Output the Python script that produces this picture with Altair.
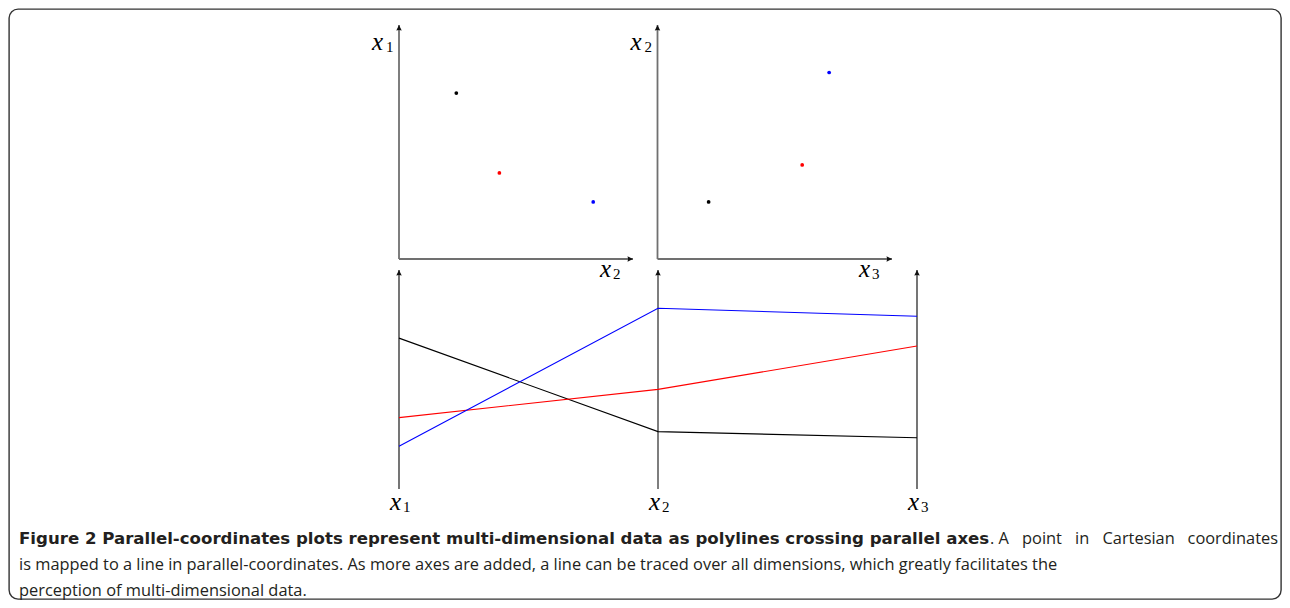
import altair as alt
import pandas as pd

# ---------------- data ----------------
series = ["black", "red", "blue"]
series_colors = ["#000000", "#ff0000", "#0000ff"]

# scatter 1: horizontal = x2, vertical = x1 (axis units 0..10)
s1_h = [2.45, 4.29, 8.30]
s1_v = [7.09, 3.68, 2.44]
# scatter 2: horizontal = x3, vertical = x2
s2_h = [2.18, 6.17, 7.32]
s2_v = [2.44, 4.02, 7.97]

# parallel coordinates
dims = ["x1", "x2", "x3"]
dim_subs = ["1", "2", "3"]
pc_x1 = [6.89, 3.26, 1.95]
pc_x2 = [2.62, 4.55, 8.25]
pc_x3 = [2.34, 6.53, 7.89]

axis_min, axis_max = 0, 10

caption_bold = ("Figure 2 Parallel-coordinates plots represent multi-dimensional "
                "data as polylines crossing parallel axes")
caption_rest1_words = [". A", "point", "in", "Cartesian", "coordinates"]
caption_line2 = ("is mapped to a line in parallel-coordinates. As more axes are added, "
                 "a line can be traced over all dimensions, which greatly facilitates the")
caption_line3 = "perception of multi-dimensional data."

# ---------------- styling ----------------
W, H = 1272, 590
MATH_FONT = "Liberation Serif"
CAP_FONT = "Open Sans"
CAP_BOLD_FONT = "DejaVu Sans"
CAP_SIZE = 16.4
CAP_BOLD_SIZE = 16.6
ARROW_UP = "M0,0 L0.55,1.1 Q0,0.85 -0.55,1.1 Z"
ARROW_RIGHT = "M0,0 L-1.1,-0.55 Q-0.85,0 -1.1,0.55 Z"

color_scale = alt.Scale(domain=series, range=series_colors)


def qx(field, rng):
    return alt.X(field, type="quantitative",
                 scale=alt.Scale(domain=[axis_min, axis_max], range=rng, nice=False, zero=False),
                 axis=None)


def qy(field, rng):
    return alt.Y(field, type="quantitative",
                 scale=alt.Scale(domain=[axis_min, axis_max], range=rng, nice=False, zero=False),
                 axis=None)


def math_label(df, X, Y, dx, dy, dxs, dys):
    main = alt.Chart(df).mark_text(font=MATH_FONT, fontStyle="italic", fontSize=25,
                                   align="left", baseline="alphabetic", dx=dx, dy=dy,
                                   color="#000").encode(x=X("x"), y=Y("y"), text="t:N")
    sub = alt.Chart(df).mark_text(font=MATH_FONT, fontSize=15, align="left",
                                  baseline="alphabetic", dx=dxs, dy=dys,
                                  color="#000").encode(x=X("x"), y=Y("y"), text="s:N")
    return [main, sub]


def scatter(h, v, xrange, vsub, hsub):
    yrange = [250, 16]
    X = lambda f: qx(f, xrange)
    Y = lambda f: qy(f, yrange)
    axes_df = pd.DataFrame({"x": [axis_min, axis_min], "y": [axis_min, axis_min],
                            "x2": [axis_min, axis_max], "y2": [axis_max, axis_min]})
    rules = alt.Chart(axes_df).mark_rule(color="#707070", strokeWidth=1.8).encode(
        x=X("x"), y=Y("y"), x2="x2", y2="y2")
    up = alt.Chart(pd.DataFrame({"x": [axis_min], "y": [axis_max]})).mark_point(
        shape=ARROW_UP, size=100, filled=True, color="#111", opacity=1).encode(x=X("x"), y=Y("y"))
    right = alt.Chart(pd.DataFrame({"x": [axis_max], "y": [axis_min]})).mark_point(
        shape=ARROW_RIGHT, size=100, filled=True, color="#111", opacity=1).encode(x=X("x"), y=Y("y"))
    pts = alt.Chart(pd.DataFrame({"series": series, "x": h, "y": v})).mark_circle(
        size=14, opacity=1).encode(x=X("x"), y=Y("y"),
                                    color=alt.Color("series:N", scale=color_scale, legend=None))
    vlab = pd.DataFrame({"x": [axis_min], "y": [axis_max], "t": ["x"], "s": [vsub]})
    hlab = pd.DataFrame({"x": [axis_max], "y": [axis_min], "t": ["x"], "s": [hsub]})
    layers = [rules, up, right, pts]
    layers += math_label(vlab, X, Y, -27, 25, -13, 27)
    layers += math_label(hlab, X, Y, -33, 17.5, -20, 19.5)
    return alt.layer(*layers)


scatter1 = scatter(s1_h, s1_v, [390, 624], "1", "2")
scatter2 = scatter(s2_h, s2_v, [648.5, 883], "2", "3")

# ---------------- parallel coordinates ----------------
pc_long = pd.DataFrame({
    "series": series * 3,
    "dim": [dims[0]] * 3 + [dims[1]] * 3 + [dims[2]] * 3,
    "value": pc_x1 + pc_x2 + pc_x3,
})
PX = lambda f: alt.X(f, type="ordinal", sort=dims,
                     scale=alt.Scale(domain=dims, range=[390, 908], type="point", padding=0),
                     axis=None)
PY = lambda f: qy(f, [480, 261])

pc_axes = pd.DataFrame({"x": dims, "y": [axis_min] * 3, "y2": [axis_max] * 3,
                        "t": ["x"] * 3, "s": dim_subs})
pc_rules_dark = alt.Chart(pc_axes).transform_filter(alt.datum.x != "x2").mark_rule(
    color="#1a1a1a", strokeWidth=1.2).encode(x=PX("x"), y=PY("y"), y2="y2")
pc_rules_gray = alt.Chart(pc_axes).transform_filter(alt.datum.x == "x2").mark_rule(
    color="#707070", strokeWidth=1.8).encode(x=PX("x"), y=PY("y"), y2="y2")
pc_tips = alt.Chart(pc_axes).mark_point(shape=ARROW_UP, size=100, filled=True,
                                        color="#111", opacity=1).encode(x=PX("x"), y=PY("y2"))
pc_lines = alt.Chart(pc_long).mark_line(strokeWidth=1.1).encode(
    x=PX("dim"), y=PY("value"),
    color=alt.Color("series:N", scale=color_scale, legend=None),
    detail="series:N")
pc_layers = [pc_rules_dark, pc_rules_gray, pc_tips, pc_lines]
pc_layers += math_label(pc_axes, PX, PY, -9, 21, 4, 23)
pc = alt.layer(*pc_layers)

# ---------------- caption ----------------
def cap(text, x, y, bold=False, align="left"):
    return alt.Chart(pd.DataFrame({"t": [text]})).mark_text(
        font=CAP_BOLD_FONT if bold else CAP_FONT,
        fontSize=CAP_BOLD_SIZE if bold else CAP_SIZE,
        fontWeight="bold" if bold else "normal",
        align=align, baseline="alphabetic", color="#231f20").encode(
        text="t:N", x=alt.value(x), y=alt.value(y))

# justified first line: spread the regular words between the bold part and the right edge
LINE1_Y = 535
bold_end, right_edge = 981, 1269
approx_word_w = [19, 40, 14.4, 72, 90.5]  # approximate rendered widths at CAP_SIZE
gap = (right_edge - bold_end - sum(approx_word_w)) / (len(approx_word_w) - 1)
word_layers = []
xpos = bold_end
for i, w in enumerate(caption_rest1_words):
    if i == len(caption_rest1_words) - 1:
        word_layers.append(cap(w, right_edge, LINE1_Y, align="right"))
    else:
        word_layers.append(cap(w, xpos, LINE1_Y))
    xpos += approx_word_w[i] + gap

caption = alt.layer(
    cap(caption_bold, 10, LINE1_Y, bold=True),
    *word_layers,
    cap(caption_line2, 10, 561),
    cap(caption_line3, 10, 587),
)

chart = alt.layer(scatter1, scatter2, pc, caption).resolve_scale(
    x="independent", y="independent"
).properties(
    width=W, height=H, padding=1, autosize="none"
).configure_view(
    stroke="#333333", strokeWidth=1.4, cornerRadius=9
)

chart.save("out.html", embed_options={"renderer": "svg", "actions": False})
